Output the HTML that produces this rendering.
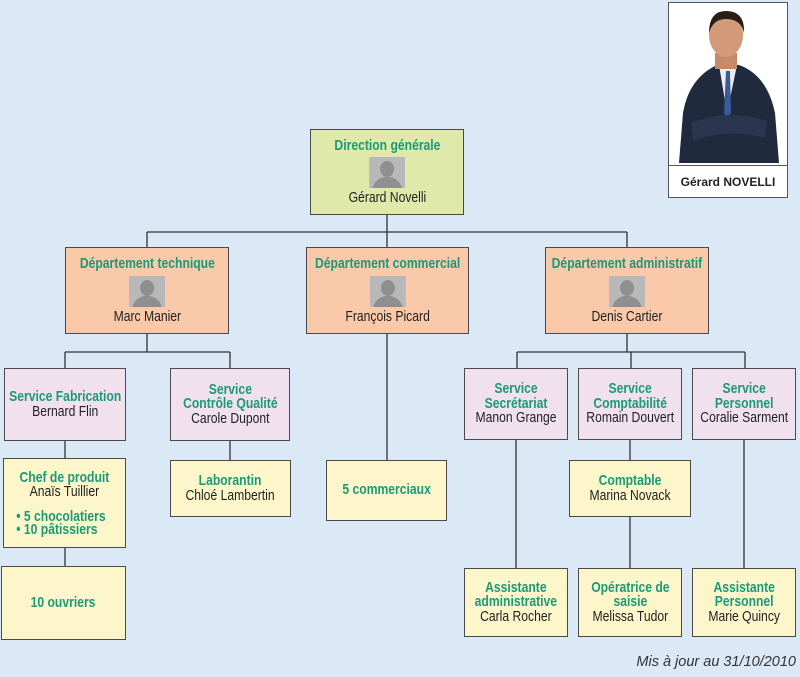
<!DOCTYPE html>
<html><head><meta charset="utf-8"><style>
body{margin:0;width:800px;height:677px;background:#dbe9f6;position:relative;overflow:hidden;font-family:"Liberation Sans",sans-serif;}
.b{position:absolute;box-sizing:border-box;border:1.5px solid #4a4a4a;display:flex;flex-direction:column;align-items:center;justify-content:center;text-align:center;font-size:15px;line-height:14.5px;color:#222;}
.b>div.c{transform:scaleX(0.81);white-space:nowrap;display:flex;flex-direction:column;align-items:center}
.g{color:#1a9a78;font-weight:bold;}
.top{background:#dfe9a9}.dep{background:#f9c9a9}.srv{background:#f1e1ee}.y{background:#fdf6cb}
.av{width:36px;height:31px;background:#b8b8b8;margin:4px 0 3px;position:relative;overflow:hidden;transform:scaleX(1.23)}
.av:before{content:"";position:absolute;left:11px;top:4px;width:14px;height:16px;border-radius:50%;background:#8f8f8f}
.av:after{content:"";position:absolute;left:3px;top:20px;width:30px;height:16px;border-radius:14px 14px 0 0;background:#8f8f8f}
svg{position:absolute;left:0;top:0}
</style></head><body>
<svg width="800" height="677"><g stroke="#333" stroke-width="1.3" fill="none">
<path d="M387 215V247M147 232H627M147 232V247M627 232V247"/>
<path d="M147 334V352M65 352H230M65 352V368M230 352V368"/>
<path d="M387 334V460"/>
<path d="M627 334V352M517 352H745M517 352V368M745 352V368M631 352V368"/>
<path d="M65 441V458M65 548V566M230 441V460"/>
<path d="M516 439V568M630 439V460M630 516V568M744 439V568"/>
</g></svg>
<div class="b top" style="left:310px;top:129px;width:154px;height:86px"><div class="c"><span class="g">Direction générale</span><div class="av"></div>Gérard Novelli</div></div>
<div class="b dep" style="left:65px;top:247px;width:164px;height:87px"><div class="c"><span class="g">Département technique</span><div class="av"></div>Marc Manier</div></div>
<div class="b dep" style="left:306px;top:247px;width:163px;height:87px"><div class="c"><span class="g">Département commercial</span><div class="av"></div>François Picard</div></div>
<div class="b dep" style="left:545px;top:247px;width:164px;height:87px"><div class="c"><span class="g">Département administratif</span><div class="av"></div>Denis Cartier</div></div>
<div class="b srv" style="left:4px;top:368px;width:122px;height:73px"><div class="c"><span class="g">Service Fabrication</span>Bernard Flin</div></div>
<div class="b srv" style="left:170px;top:368px;width:120px;height:73px"><div class="c"><span class="g">Service<br>Contrôle Qualité</span>Carole Dupont</div></div>
<div class="b srv" style="left:464px;top:368px;width:104px;height:72px"><div class="c"><span class="g">Service<br>Secrétariat</span>Manon Grange</div></div>
<div class="b srv" style="left:578px;top:368px;width:104px;height:72px"><div class="c"><span class="g">Service<br>Comptabilité</span>Romain Douvert</div></div>
<div class="b srv" style="left:692px;top:368px;width:104px;height:72px"><div class="c"><span class="g">Service<br>Personnel</span>Coralie Sarment</div></div>
<div class="b y" style="left:3px;top:458px;width:123px;height:90px"><div class="c"><span class="g">Chef de produit</span>Anaïs Tuillier<span class="g" style="align-self:flex-start;margin-left:-4px;text-align:left;margin-top:10px;line-height:13px">• 5 chocolatiers<br>• 10 pâtissiers</span></div></div>
<div class="b y" style="left:170px;top:460px;width:121px;height:57px"><div class="c"><span class="g">Laborantin</span>Chloé Lambertin</div></div>
<div class="b y" style="left:326px;top:460px;width:121px;height:61px"><div class="c"><span class="g">5 commerciaux</span></div></div>
<div class="b y" style="left:569px;top:460px;width:122px;height:57px"><div class="c"><span class="g">Comptable</span>Marina Novack</div></div>
<div class="b y" style="left:1px;top:566px;width:125px;height:74px"><div class="c"><span class="g">10 ouvriers</span></div></div>
<div class="b y" style="left:464px;top:568px;width:104px;height:69px"><div class="c"><span class="g">Assistante<br>administrative</span>Carla Rocher</div></div>
<div class="b y" style="left:578px;top:568px;width:104px;height:69px"><div class="c"><span class="g">Opératrice de<br>saisie</span>Melissa Tudor</div></div>
<div class="b y" style="left:692px;top:568px;width:104px;height:69px"><div class="c"><span class="g">Assistante<br>Personnel</span>Marie Quincy</div></div>
<div style="position:absolute;left:668px;top:2px;width:120px;height:196px;box-sizing:border-box;border:1.5px solid #555;background:#fff">
<svg width="117" height="160" style="position:absolute;left:0;top:0">
<path d="M10 160 L14 110 Q20 75 48 62 L70 62 Q98 72 106 110 L110 160Z" fill="#1f2a3e"/>
<path d="M50 62 L58 110 L68 62Z" fill="#e8eef5"/>
<path d="M57 68 L61 68 L62 110 L58 115 L55 110Z" fill="#3a5a9a"/>
<path d="M22 120 Q58 105 98 118 L96 135 Q58 125 24 138Z" fill="#2a3550"/>
<rect x="46" y="50" width="22" height="16" fill="#c48a6a"/>
<ellipse cx="57" cy="32" rx="17" ry="22" fill="#d29a78"/>
<path d="M40 30 Q40 8 57 8 Q76 8 75 30 Q72 16 57 16 Q44 16 40 30Z" fill="#2b1e18"/>
</svg>
<div style="position:absolute;left:0;right:0;top:162px;border-top:1.5px solid #555;height:32px;display:flex;align-items:center;justify-content:center;font-weight:bold;font-size:12px;color:#222">Gérard NOVELLI</div></div>
<div style="position:absolute;right:4px;top:654px;font-style:italic;font-size:14.5px;color:#333">Mis à jour au 31/10/2010</div>
</body></html>
